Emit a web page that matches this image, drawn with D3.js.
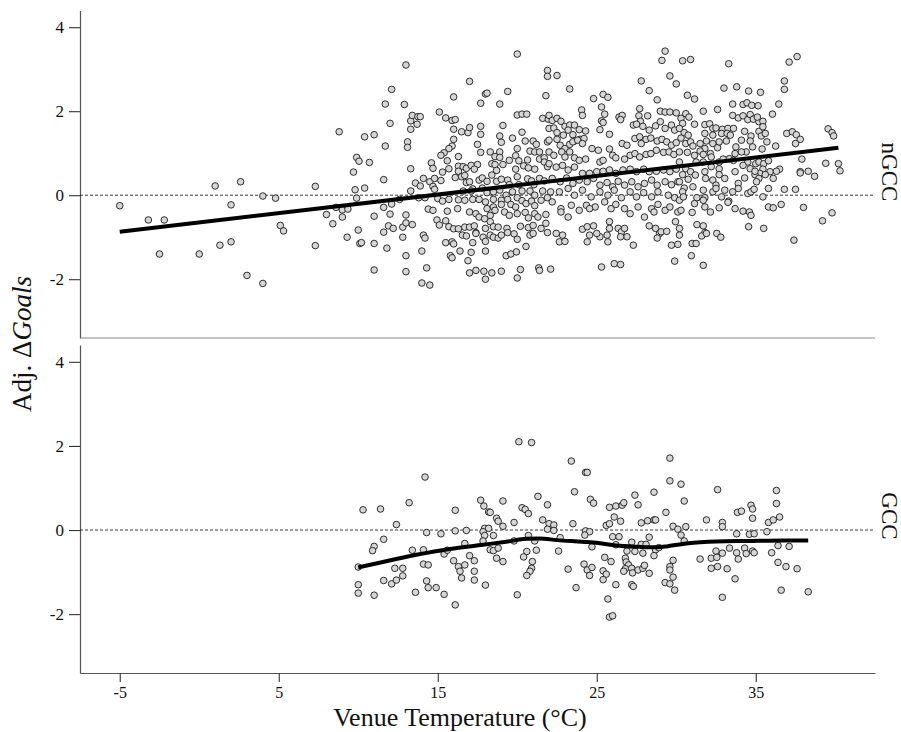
<!DOCTYPE html>
<html>
<head>
<meta charset="utf-8">
<script src="https://cdn.jsdelivr.net/npm/d3@7"></script>
<style>
  body { margin: 0; background: #fff; }
  svg { display: block; }
  text { font-family: "Liberation Serif", "Times New Roman", serif; }
</style>
</head>
<body>
<svg id="chart"></svg>
<script>
// tick labels and panel names
const xTicks = [-5, 5, 15, 25, 35];
const yTicks = [-2, 0, 2, 4];
const panelNames = ["nGCC", "GCC"];

// [venue temperature, adj. delta goals]
const ngccPoints = [
  [-5.0,-0.25],[-3.2,-0.59],[-2.2,-0.59],[-2.5,-1.40],[0.0,-1.40],[1.0,0.22],[1.3,-1.19],[2.0,-0.23],[2.0,-1.11],[2.6,0.32],
  [3.0,-1.91],[4.0,-0.02],[4.0,-2.10],[4.8,-0.07],[5.1,-0.72],[5.3,-0.85],
  [7.3,0.21],[7.3,-1.20],[8.0,-0.46],[8.4,-0.68],[8.6,-0.29],[8.8,1.51],[9.0,-0.52],[9.0,-0.35],[9.3,-1.0],[9.35,-0.33],
  [9.7,0.55],[9.8,0.13],[9.9,0.90],[9.9,-0.07],[10.0,-0.83],[10.05,0.81],[10.1,-1.15],[10.2,-1.13],[10.4,1.39],[10.4,0.17],
  [10.7,0.78],[11.0,1.44],[11.0,-0.50],[11.0,-1.15],[11.0,-1.78],[11.6,0.37],[11.6,-0.29],[11.6,-0.88],[11.7,2.17],[11.7,1.17],
  [11.8,-1.26],[11.9,-0.73],[12.0,1.71],[12.0,-0.45],[12.1,2.52],[12.1,-0.21],[12.2,-0.79],[12.6,-0.10],[12.8,-0.76],[12.8,-1.00],
  [12.9,2.16],[13.0,3.10],[13.0,-0.47],[13.0,-0.66],[13.0,-1.44],[13.0,-1.82],[13.1,1.27],[13.1,1.14],[13.3,1.77],[13.3,1.57],
  [13.3,0.63],[13.3,0.10],[13.4,1.90],[13.4,-0.70],[13.6,0.29],[13.7,1.69],[13.75,1.87],
  [20.0,3.36],[17.0,2.71],[21.9,2.97],[21.9,2.83],[16.0,2.34],[18.0,2.41],[18.1,2.43],[19.4,2.47],[17.7,2.19],[18.9,2.17],
  [21.8,2.37],[15.1,1.98],[15.5,1.84],[15.9,1.78],[16.1,1.80],[13.9,1.87],[20.0,1.91],[20.3,1.93],[20.6,1.93],[21.6,1.83],
  [21.95,1.81],[16.0,1.57],[16.5,1.51],[16.9,1.49],[17.0,1.61],[17.7,1.64],[17.7,1.45],[19.1,1.66],[18.9,1.41],[19.0,1.26],
  [19.7,1.36],[20.3,1.50],[20.5,1.29],[21.0,1.29],[21.2,1.21],[21.9,1.27],[16.0,1.33],[15.9,1.17],[17.5,1.21],[20.0,1.11],
  [15.7,1.11],[15.4,1.01],[15.2,0.95],[16.3,0.92],[17.7,1.02],[18.3,1.03],[18.9,1.03],[18.6,0.92],[18.9,0.90],[20.8,1.05],
  [21.1,1.03],[21.4,1.03],[19.5,0.83],[19.9,0.94],[20.1,0.82],[20.65,0.84],[21.4,0.86],[21.7,0.89],[14.6,0.77],[14.7,0.64],
  [15.6,0.82],[15.3,0.55],[15.7,0.63],[16.3,0.69],[16.6,0.68],[16.8,0.64],[16.3,0.57],[17.1,0.71],[17.5,0.73],[17.3,0.62],
  [18.4,0.75],[18.6,0.73],[18.7,0.59],[19.1,0.73],[19.9,0.62],[20.4,0.70],[20.7,0.65],[21.1,0.62],[21.7,0.79],[21.9,0.68],
  [14.1,0.40],[13.9,0.22],[14.5,0.32],[14.8,0.40],[14.7,0.21],[14.8,0.14],[15.2,0.35],[16.1,0.42],[16.5,0.44],[16.7,0.47],
  [16.8,0.30],[17.0,0.32],[17.2,0.15],[17.6,0.36],[17.8,0.41],[18.1,0.33],[18.4,0.48],[18.7,0.33],[19.0,0.38],[19.4,0.36],
  [19.5,0.25],[20.0,0.44],[20.1,0.25],[20.65,0.39],[20.9,0.34],[21.05,0.25],[21.4,0.40],[21.7,0.34],[16.6,0.10],[17.1,0.10],
  [17.8,0.17],[18.1,0.06],[18.5,0.08],[18.9,0.12],[19.3,0.0],[19.7,0.08],[20.3,0.10],[20.8,0.10],[21.1,0.0],[21.6,0.10],
  [13.8,-0.06],[14.2,-0.06],[14.4,-0.33],[14.7,-0.36],[15.0,-0.08],[15.3,-0.14],[15.7,-0.10],[16.3,-0.11],[16.7,-0.12],[17.2,-0.10],
  [17.6,-0.10],[16.25,-0.32],[15.6,-0.38],[18.0,-0.16],[18.1,-0.32],[18.5,-0.10],[19.0,-0.12],[19.4,-0.10],[18.5,-0.28],[19.0,-0.22],
  [19.2,-0.40],[19.6,-0.22],[19.9,-0.28],[20.0,-0.06],[20.3,-0.13],[20.55,-0.20],[20.9,-0.14],[21.1,-0.25],[21.5,-0.12],[21.9,-0.06],
  [17.0,-0.40],[17.4,-0.44],[17.6,-0.52],[17.95,-0.56],[18.3,-0.48],[18.6,-0.36],[19.5,-0.48],[20.0,-0.44],[20.5,-0.41],[20.7,-0.54],
  [21.1,-0.44],[21.3,-0.52],[21.8,-0.46],[14.95,-0.59],[15.1,-0.71],[15.5,-0.61],[15.7,-0.75],[16.0,-0.80],[16.3,-0.80],[16.7,-0.76],
  [17.0,-0.76],[17.3,-0.73],[17.4,-0.89],[18.0,-0.79],[18.3,-0.63],[18.5,-0.75],[18.8,-0.76],[19.35,-0.79],[20.2,-0.74],[20.7,-0.77],
  [21.0,-0.72],[21.5,-0.79],[21.8,-0.67],[21.9,-0.89],[16.55,-0.95],[16.8,-0.97],[17.4,-0.91],[17.85,-1.0],[18.3,-0.95],[18.5,-1.0],
  [18.8,-1.02],[19.0,-0.95],[19.4,-0.89],[19.8,-0.92],[20.0,-1.05],[20.8,-0.95],[21.0,-0.91],[14.1,-0.95],[14.2,-1.02],[15.5,-1.13],
  [15.9,-1.11],[16.0,-1.16],[17.2,-1.13],[18.0,-1.10],[14.0,-1.33],[16.4,-1.33],[17.1,-1.36],[18.0,-1.33],[19.3,-1.44],[19.6,-1.40],
  [19.95,-1.35],[20.55,-1.22],[15.8,-1.44],[15.9,-1.49],[16.9,-1.56],[14.3,-1.73],[17.0,-1.85],[17.4,-1.79],[17.9,-1.81],[18.4,-1.85],
  [19.0,-1.81],[18.0,-2.0],[20.0,-1.97],[20.2,-1.77],[21.35,-1.73],[21.4,-1.79],[14.0,-2.09],[14.5,-2.14],
  [29.3,3.43],[29.1,3.21],[22.5,2.85],[23.3,2.53],[27.8,2.72],[28.3,2.49],[29.6,2.84],[30.0,2.65],[28.8,2.27],[24.8,2.30],
  [25.4,2.40],[25.7,2.33],[24.05,2.03],[24.1,1.90],[25.3,2.10],[25.5,1.93],[25.3,1.77],[26.4,1.86],[26.6,1.90],[27.7,2.06],
  [27.65,1.89],[27.75,1.76],[28.2,1.89],[29.0,2.0],[29.3,1.98],[29.6,1.98],[30.0,1.96],[22.0,1.90],[22.2,1.78],[22.5,1.83],
  [22.75,1.76],[23.0,1.64],[23.3,1.67],[23.6,1.67],[23.9,1.56],[24.3,1.53],[22.0,1.59],[22.3,1.60],[22.5,1.49],[22.9,1.43],
  [23.2,1.55],[23.5,1.44],[23.6,1.29],[23.95,1.33],[24.2,1.35],[25.2,1.56],[25.4,1.73],[25.8,1.45],[26.5,1.80],[27.3,1.67],
  [27.5,1.69],[27.9,1.64],[28.3,1.55],[28.7,1.65],[29.0,1.75],[29.3,1.59],[29.7,1.67],[29.9,1.55],[22.0,1.31],[22.5,1.33],
  [22.7,1.19],[23.0,1.11],[23.3,1.21],[23.5,1.27],[23.8,1.31],[24.1,1.23],[24.7,1.11],[25.1,1.07],[25.8,1.10],[26.6,1.23],
  [26.9,1.19],[27.4,1.35],[27.7,1.39],[27.8,1.23],[28.1,1.33],[28.4,1.36],[28.8,1.29],[29.1,1.33],[29.4,1.27],[29.7,1.19],
  [30.0,1.25],[22.0,1.03],[22.3,0.95],[22.8,1.03],[23.0,0.91],[23.3,1.03],[23.6,0.89],[23.9,0.83],[24.3,0.86],[25.2,0.79],
  [25.4,0.83],[26.0,0.95],[26.2,0.89],[26.75,0.86],[27.1,0.95],[27.4,0.99],[27.7,0.91],[28.1,0.97],[28.4,0.99],[28.75,1.07],
  [29.2,1.02],[29.55,1.03],[29.85,0.97],[22.0,0.75],[22.45,0.67],[22.85,0.71],[23.2,0.60],[23.6,0.67],[24.1,0.52],[24.55,0.52],
  [25.0,0.56],[25.4,0.57],[25.8,0.60],[26.2,0.52],[26.65,0.60],[27.1,0.62],[27.5,0.56],[27.95,0.62],[28.3,0.56],[28.75,0.57],
  [29.2,0.60],[29.6,0.56],[30.0,0.62],[22.2,0.40],[22.7,0.32],[23.1,0.41],[23.5,0.28],[23.9,0.36],[24.4,0.32],[24.8,0.40],
  [25.2,0.24],[25.65,0.30],[26.0,0.20],[26.35,0.33],[26.75,0.24],[27.2,0.32],[27.6,0.20],[28.0,0.28],[28.45,0.36],[28.8,0.24],
  [29.3,0.32],[29.7,0.25],[30.1,0.32],[22.1,0.08],[22.65,0.08],[23.2,0.16],[23.6,0.0],[24.1,0.12],[24.65,-0.04],[25.2,0.08],
  [25.7,0.0],[26.1,0.12],[26.55,-0.06],[27.1,0.08],[27.5,-0.04],[27.95,0.06],[28.45,-0.04],[28.85,0.08],[29.5,0.0],[29.9,-0.06],
  [22.2,-0.16],[22.75,-0.32],[23.4,-0.24],[23.9,-0.36],[24.35,-0.24],[24.9,-0.28],[25.5,-0.16],[25.9,-0.32],[26.2,-0.22],[26.75,-0.32],
  [27.1,-0.44],[27.6,-0.28],[28.0,-0.52],[28.45,-0.32],[28.85,-0.22],[29.3,-0.36],[29.6,-0.28],[30.1,-0.40],[23.2,-0.52],[22.75,-0.40],
  [24.55,-0.32],[22.45,-0.91],[22.85,-0.95],[22.65,-1.11],[23.0,-1.10],[24.1,-0.81],[24.4,-0.75],[24.8,-0.73],[24.55,-0.95],[24.4,-1.11],
  [25.2,-0.99],[25.65,-0.95],[25.8,-0.63],[25.8,-0.79],[26.35,-0.79],[26.55,-0.87],[26.75,-0.79],[26.9,-0.99],[27.3,-1.19],[26.5,-0.99],
  [25.7,-1.11],[28.7,-0.79],[28.95,-0.91],[29.05,-0.87],[29.4,-0.86],[28.8,-1.02],[29.95,-0.63],[29.7,-1.19],[30.1,-1.17],[25.0,-0.91],
  [28.3,-0.73],[28.6,-0.40],[25.3,-1.71],[26.1,-1.63],[26.5,-1.65],[29.9,-1.57],[22.1,-1.76],
  [30.4,3.20],[30.9,3.23],[33.3,3.13],[37.1,3.17],[37.6,3.30],[33.0,2.55],[33.8,2.58],[34.55,2.48],[35.3,2.45],[36.8,2.72],
  [36.8,2.52],[30.7,2.38],[31.15,2.29],[33.55,2.17],[34.2,2.16],[34.45,2.20],[34.75,2.14],[35.15,2.13],[36.45,2.17],[31.7,2.0],
  [32.6,2.04],[30.6,1.94],[36.05,1.93],[33.55,1.90],[33.9,1.84],[34.2,1.89],[34.5,1.80],[34.65,1.92],[34.85,1.81],[35.2,1.75],
  [35.45,1.76],[35.1,1.86],[30.3,1.83],[30.8,1.86],[30.4,1.71],[31.15,1.69],[31.8,1.68],[32.1,1.70],[32.3,1.59],[32.5,1.60],
  [32.9,1.57],[33.25,1.59],[33.6,1.59],[31.8,1.47],[32.3,1.43],[32.85,1.47],[33.2,1.47],[33.4,1.43],[30.5,1.49],[30.2,1.59],
  [34.3,1.52],[34.7,1.41],[35.2,1.52],[35.45,1.63],[35.7,1.27],[35.35,1.41],[35.6,1.47],[36.95,1.47],[37.3,1.51],[37.55,1.44],
  [37.8,1.33],[37.5,1.23],[30.3,1.36],[30.75,1.43],[30.6,1.23],[30.9,1.27],[31.05,1.17],[31.5,1.23],[31.9,1.29],[32.3,1.23],
  [32.6,1.13],[31.8,1.11],[31.5,1.05],[32.15,0.99],[32.7,1.27],[33.15,1.29],[33.75,1.15],[34.1,1.31],[34.65,1.29],[34.8,1.15],
  [34.4,1.03],[35.4,1.10],[36.25,1.17],[33.7,0.99],[34.1,1.03],[33.35,0.87],[30.2,1.03],[30.7,1.02],[31.15,0.95],[31.7,0.97],
  [31.25,0.79],[31.7,0.79],[32.2,0.91],[32.7,0.79],[32.95,0.86],[30.2,0.79],[33.6,0.83],[34.5,0.79],[35.0,0.75],[35.2,0.79],
  [35.5,0.75],[35.8,0.82],[34.65,0.63],[34.2,0.71],[35.45,0.62],[35.25,0.52],[34.95,0.49],[35.9,0.56],[35.6,0.49],[36.1,0.40],
  [36.5,0.62],[36.3,0.57],[37.9,0.86],[37.8,0.56],[38.3,0.57],[30.6,0.63],[30.9,0.56],[30.4,0.49],[30.75,0.38],[31.2,0.48],
  [31.8,0.56],[31.85,0.40],[32.2,0.68],[32.7,0.63],[32.7,0.49],[32.3,0.36],[32.5,0.24],[33.05,0.40],[33.7,0.56],[33.9,0.28],
  [34.3,0.41],[34.95,0.57],[35.2,0.40],[35.05,0.32],[30.2,0.32],[30.5,0.17],[30.4,0.08],[31.05,0.20],[31.3,-0.06],[31.7,0.12],
  [31.8,-0.06],[32.3,0.08],[32.5,0.16],[32.85,-0.04],[33.05,0.12],[33.3,-0.14],[33.55,0.08],[33.9,0.16],[34.5,0.04],[34.7,0.08],
  [35.45,-0.04],[35.8,0.16],[34.9,0.14],[36.8,0.14],[37.5,0.14],[30.2,-0.12],[30.45,-0.04],[30.3,-0.36],[31.0,-0.41],[31.15,-0.20],
  [31.7,-0.12],[31.8,-0.28],[32.15,-0.40],[32.7,-0.30],[33.25,-0.17],[33.7,-0.32],[34.2,-0.38],[34.6,-0.40],[34.7,-0.48],[35.8,-0.28],
  [36.1,-0.30],[36.6,-0.22],[38.0,-0.29],[34.55,-0.75],[35.5,-0.79],[31.3,-0.70],[31.7,-0.73],[31.8,-0.89],[31.6,-0.97],[31.9,-0.91],
  [32.55,-0.91],[32.8,-1.0],[30.2,-0.79],[30.2,-0.95],[31.0,-1.15],[31.25,-1.15],[30.95,-1.44],[31.7,-1.67],[37.4,-1.07],
  [39.55,1.58],[39.8,1.49],[39.9,1.41],[39.4,0.76],[40.2,0.75],[40.3,0.58],[38.7,0.45],[39.2,-0.61],[39.8,-0.42],[37.8,0.53]
];

const gccPoints = [
  [10.0,-0.88],[10.0,-1.30],[10.0,-1.50],[10.3,0.48],[11.0,-0.39],[10.9,-0.49],[11.0,-1.55],[11.4,0.50],[11.6,-0.22],[11.6,-1.20],
  [12.1,-1.28],[12.3,-0.91],[12.4,-1.19],[12.8,-0.91],[12.8,-1.09],[12.4,0.13],[13.2,0.65],[13.4,-0.48],[13.6,-1.48],[14.1,-0.47],
  [14.1,-0.81],[14.4,-0.83],[14.2,1.26],[14.3,-0.06],[14.3,-1.21],[14.4,-1.37],[14.9,-1.37],[15.2,-0.09],[15.4,-0.57],[15.6,-0.48],
  [15.4,-1.53],[16.1,0.47],[16.1,-0.02],[16.0,-0.73],[16.3,-0.87],[16.4,-0.98],[16.5,-1.14],[16.1,-1.78],[16.7,-0.32],[16.8,-0.01],
  [16.7,-0.83],[17.0,-0.61],[17.3,-0.73],[17.3,-0.98],[17.3,-1.19],[17.7,0.71],[17.9,0.57],[18.2,0.43],[18.3,0.42],[17.95,0.04],
  [18.2,0.04],[17.85,-0.04],[17.95,-0.13],[17.85,-0.26],[18.5,-0.13],[18.3,-0.47],[18.5,-0.49],[18.8,-0.43],[18.0,-1.31],[18.7,0.28],
  [18.8,0.21],[19.1,0.09],[19.1,0.69],[18.7,-0.67],[19.1,-0.75],[19.8,0.18],[19.8,-0.26],[20.0,-1.54],[20.1,2.10],[20.9,2.08],
  [20.3,0.53],[20.5,0.49],[20.7,0.39],[20.7,-0.13],[21.1,-0.26],[20.6,-0.51],[20.4,-0.64],[21.2,-0.48],[20.95,-0.75],[20.9,-0.91],
  [20.8,-0.98],[20.6,-1.08],[21.3,0.80],[21.6,0.24],[21.9,0.60],[22.0,0.15],[22.3,0.12],[21.9,0.02],[22.3,-0.01],[22.7,-0.18],
  [22.6,-0.50],[23.2,-0.93],[23.7,-1.37],[23.4,1.64],[24.3,1.37],[24.4,1.37],[23.6,0.91],[24.6,0.73],[24.8,0.64],[23.5,0.15],
  [24.3,-0.02],[24.55,-0.04],[24.25,-0.12],[24.7,-0.40],[24.2,-0.81],[24.4,-0.95],[24.7,-0.89],[24.55,-1.08],
  [29.6,1.71],[29.6,1.17],[30.3,1.09],[30.5,0.69],[28.6,0.90],[27.4,0.83],[27.6,0.60],[32.6,0.96],[36.3,0.94],[36.3,0.63],
  [36.5,0.31],[25.8,0.54],[26.2,0.57],[26.6,0.59],[26.7,0.65],[26.1,0.31],[26.5,0.21],[25.6,0.11],[25.8,0.15],[27.8,0.17],
  [28.2,0.22],[28.6,0.24],[28.7,0.24],[29.35,0.42],[29.8,0.09],[30.1,0.02],[30.6,0.08],[30.3,-0.12],[30.5,-0.26],[31.9,0.24],
  [32.9,0.18],[32.9,0.08],[33.8,-0.09],[34.6,-0.10],[34.9,-0.09],[35.7,-0.04],[35.8,0.18],[36.1,0.24],[34.7,0.59],[34.8,0.50],
  [34.8,0.28],[33.85,0.42],[34.1,0.45],[26.0,-0.16],[26.4,-0.16],[26.2,-0.35],[27.2,-0.29],[27.8,-0.34],[28.1,-0.34],[28.3,-0.17],
  [26.9,-0.50],[27.4,-0.51],[27.9,-0.55],[28.7,-0.47],[28.9,-0.42],[28.6,-0.61],[25.5,-0.65],[25.9,-0.75],[26.8,-0.67],[26.85,-0.76],
  [27.0,-0.83],[26.8,-0.92],[27.2,-0.91],[26.7,-0.98],[27.25,-1.02],[27.6,-0.95],[27.9,-0.91],[28.0,-0.84],[28.3,-1.03],[29.8,-0.72],
  [29.6,-0.87],[29.6,-0.95],[29.8,-1.12],[29.3,-1.25],[29.6,-1.28],[29.9,-1.43],[25.4,-0.97],[25.6,-1.05],[25.4,-1.18],[26.2,-1.30],
  [27.2,-1.30],[27.3,-1.34],[25.7,-1.64],[25.8,-2.07],[26.0,-2.04],[31.5,-0.69],[32.2,-0.67],[32.5,-0.50],[32.55,-0.65],[32.9,-0.55],
  [33.35,-0.43],[33.8,-0.54],[33.9,-0.69],[34.3,-0.43],[34.4,-0.56],[34.8,-0.50],[34.9,-0.54],[32.2,-0.91],[32.6,-0.87],[33.2,-0.92],
  [33.7,-1.16],[32.9,-1.60],[36.0,-0.54],[36.4,-0.37],[37.1,-0.39],[36.4,-0.77],[36.9,-0.87],[37.6,-0.92],[36.6,-1.43],[38.3,-1.47]
];

// fitted lines as drawn in the picture
const ngccFit = [[-5.0,-0.87],[40.2,1.13]];
const gccFit = [
  [10.0,-0.89],[11.55,-0.76],[13.65,-0.59],[15.75,-0.45],[17.85,-0.35],[19.3,-0.28],[20.6,-0.21],[21.4,-0.20],[22.5,-0.24],
  [24.1,-0.28],[25.1,-0.31],[26.2,-0.37],[27.7,-0.40],[28.75,-0.41],[29.4,-0.39],[30.4,-0.33],[31.5,-0.29],[32.5,-0.27],
  [34.6,-0.26],[36.7,-0.25],[38.3,-0.25]
];

(function(){
  var width = 901, height = 732;
  var left = 80, right = 875;

  var svg = d3.select("#chart")
    .attr("width", width)
    .attr("height", height);

  var x = d3.scaleLinear().domain([-7.5, 42.5]).range([left, right]);

  var panels = [
    {name: panelNames[0], pts: ngccPoints, fit: ngccFit, top: 10.4, bottom: 338, labelY: 172, curve: d3.curveLinear},
    {name: panelNames[1], pts: gccPoints, fit: gccFit, top: 345, bottom: 673, labelY: 516, curve: d3.curveMonotoneX}
  ];

  panels.forEach(function(p, i) {
    var y = d3.scaleLinear().domain([-3.4, 4.4]).range([p.bottom, p.top]);
    var g = svg.append("g");

    // left axis
    var ya = g.append("g")
      .attr("transform", "translate(" + left + ",0)")
      .call(d3.axisLeft(y).tickValues(yTicks).tickSize(11).tickSizeOuter(0).tickPadding(5).tickFormat(d => String(d)));
    ya.attr("font-family", null);
    ya.select(".domain").attr("stroke", "#555").attr("stroke-width", 1.2);
    ya.selectAll(".tick line").attr("stroke", "#333").attr("stroke-width", 1.1);
    ya.selectAll(".tick text").attr("font-size", "17px").attr("fill", "#111");

    // bottom axis only on the last panel
    if (i === panels.length - 1) {
      var xa = g.append("g")
        .attr("transform", "translate(0," + p.bottom + ")")
        .call(d3.axisBottom(x).tickValues(xTicks).tickSize(9).tickSizeOuter(0).tickPadding(5).tickFormat(d => String(d)));
      xa.attr("font-family", null);
      xa.select(".domain").attr("stroke", "#555").attr("stroke-width", 1.2);
      xa.selectAll(".tick line").attr("stroke", "#333").attr("stroke-width", 1.1);
      xa.selectAll(".tick text").attr("font-size", "16px").attr("fill", "#111");
    } else {
      g.append("line")
        .attr("x1", left).attr("x2", right)
        .attr("y1", p.bottom).attr("y2", p.bottom)
        .attr("stroke", "#888").attr("stroke-width", 1.2);
    }

    // zero reference
    g.append("line")
      .attr("x1", left).attr("x2", right)
      .attr("y1", y(0)).attr("y2", y(0))
      .attr("stroke", "#222").attr("stroke-width", 0.9)
      .attr("stroke-dasharray", "3,2");

    g.selectAll("circle")
      .data(p.pts)
      .enter()
      .append("circle")
        .attr("cx", d => x(d[0]))
        .attr("cy", d => y(d[1]))
        .attr("r", 3.3)
        .attr("fill", "#d6d6d6")
        .attr("stroke", "#1a1a1a")
        .attr("stroke-width", 0.9);

    g.append("path")
      .datum(p.fit)
      .attr("d", d3.line().x(d => x(d[0])).y(d => y(d[1])).curve(p.curve))
      .attr("fill", "none")
      .attr("stroke", "#000")
      .attr("stroke-width", 4);

    g.append("text")
      .attr("transform", "translate(882," + p.labelY + ") rotate(90)")
      .attr("text-anchor", "middle")
      .attr("font-size", "23px")
      .attr("fill", "#111")
      .text(p.name);
  });

  // axis titles
  svg.append("text")
    .attr("x", 460)
    .attr("y", 726)
    .attr("text-anchor", "middle")
    .attr("font-size", "26px")
    .attr("fill", "#111")
    .text("Venue Temperature (°C)");

  var yt = svg.append("text")
    .attr("transform", "translate(31,344) rotate(-90)")
    .attr("text-anchor", "middle")
    .attr("font-size", "27px")
    .attr("fill", "#111");
  yt.append("tspan").text("Adj. Δ");
  yt.append("tspan").attr("font-style", "italic").text("Goals");
})();
</script>
</body>
</html>
